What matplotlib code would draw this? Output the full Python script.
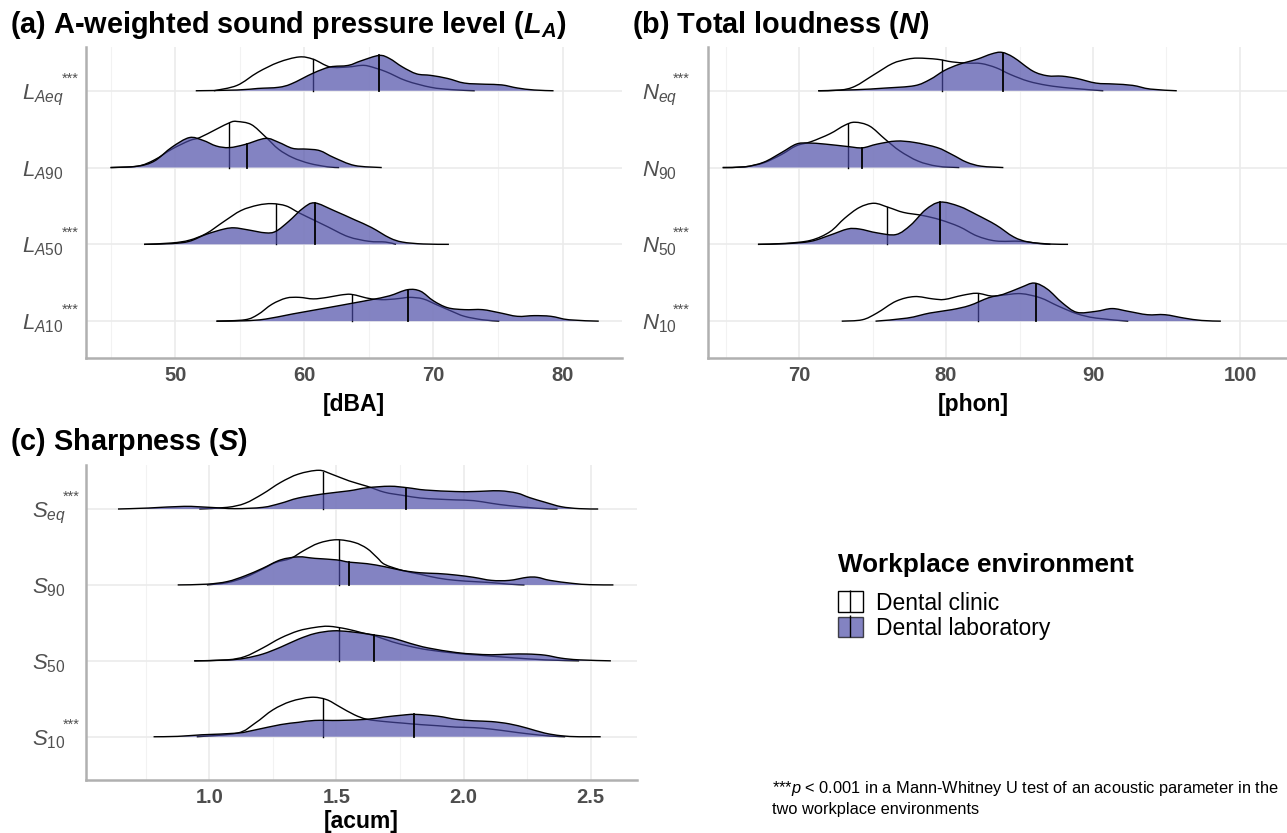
import numpy as np
import matplotlib.pyplot as plt
from matplotlib.path import Path
from matplotlib.patches import PathPatch, Patch
from matplotlib.lines import Line2D
from matplotlib.legend_handler import HandlerTuple

plt.rcParams["font.family"] = ["Liberation Sans", "DejaVu Sans"]
plt.rcParams["mathtext.fontset"] = "custom"
plt.rcParams["mathtext.rm"] = "Liberation Sans"
plt.rcParams["mathtext.it"] = "Liberation Sans:italic"
plt.rcParams["mathtext.bf"] = "Liberation Sans:bold"
plt.rcParams["mathtext.bfit"] = "Liberation Sans:bold:italic"

# ---- data: (value, scaled density) ----
# (a) A-weighted SPL [dBA]
la_eq_cli = [(53.0, 0), (54.8, 0.07), (56.4, 0.24), (58.0, 0.37), (59.6, 0.44), (60.7, 0.41), (62.0, 0.31),
             (63.4, 0.31), (64.4, 0.33), (65.0, 0.32), (66.3, 0.25), (67.9, 0.13), (69.8, 0.045), (71.4, 0.015), (73.2, 0)]
la_eq_lab = [(51.6, 0), (54.8, 0.01), (56.4, 0.03), (58.0, 0.045), (59.0, 0.09), (60.7, 0.23), (62.0, 0.31),
             (63.4, 0.33), (64.4, 0.39), (65.8, 0.46), (66.6, 0.42), (67.6, 0.31), (68.7, 0.22), (69.8, 0.20),
             (71.1, 0.16), (72.4, 0.10), (74.0, 0.085), (75.3, 0.076), (76.5, 0.036), (77.8, 0.01), (79.3, 0)]
la_90_cli = [(45.0, 0), (47.1, 0.018), (48.4, 0.10), (49.75, 0.24), (51.1, 0.35), (51.9, 0.39), (53.2, 0.50),
             (54.3, 0.59), (54.8, 0.60), (55.9, 0.56), (57.0, 0.40), (58.0, 0.24), (59.1, 0.13), (60.4, 0.054),
             (61.8, 0.01), (62.7, 0)]
la_90_lab = [(45.0, 0), (47.1, 0.018), (48.4, 0.085), (49.75, 0.265), (51.1, 0.39), (52.15, 0.355), (53.2, 0.28),
             (54.2, 0.26), (55.4, 0.30), (57.0, 0.38), (58.0, 0.33), (59.1, 0.25), (60.2, 0.24), (61.2, 0.22),
             (62.3, 0.13), (63.9, 0.027), (66.0, 0)]
la_50_cli = [(47.6, 0), (49.75, 0.018), (51.1, 0.054), (52.4, 0.14), (53.8, 0.30), (55.1, 0.44), (56.4, 0.51),
             (57.5, 0.53), (58.6, 0.50), (59.6, 0.41), (60.7, 0.32), (61.8, 0.23), (63.4, 0.10), (65.0, 0.04),
             (66.3, 0.03), (67.1, 0)]
la_50_lab = [(47.6, 0), (49.75, 0.01), (51.1, 0.04), (52.4, 0.13), (53.8, 0.20), (54.6, 0.215), (55.6, 0.19),
             (57.0, 0.15), (57.8, 0.17), (58.8, 0.30), (59.9, 0.47), (60.8, 0.54), (62.3, 0.44), (63.9, 0.32),
             (65.2, 0.22), (66.6, 0.085), (67.6, 0.03), (69.2, 0.005), (71.2, 0)]
la_10_cli = [(53.2, 0), (55.4, 0.018), (56.4, 0.085), (57.5, 0.22), (58.6, 0.30), (59.6, 0.31), (60.7, 0.29),
             (61.8, 0.31), (62.8, 0.34), (63.6, 0.35), (64.4, 0.32), (65.2, 0.29), (66.3, 0.28), (67.6, 0.30),
             (68.2, 0.31), (69.2, 0.29), (70.3, 0.21), (71.4, 0.13), (72.4, 0.063), (73.8, 0.018), (75.1, 0)]
la_10_lab = [(53.2, 0), (55.4, 0.005), (57.0, 0.027), (59.1, 0.094), (61.8, 0.175), (63.6, 0.23), (65.2, 0.28),
             (66.6, 0.33), (68.0, 0.41), (69.0, 0.39), (70.0, 0.265), (71.1, 0.175), (72.4, 0.15), (73.8, 0.15),
             (75.1, 0.11), (76.5, 0.063), (77.8, 0.072), (79.1, 0.063), (80.5, 0.018), (82.8, 0)]
la_med_cli = [60.7, 54.2, 57.8, 63.7]
la_med_lab = [65.8, 55.6, 60.8, 68.05]

# (b) Total loudness [phon]
n_eq_cli = [(71.3, 0), (72.8, 0.009), (73.8, 0.058), (75.1, 0.21), (76.35, 0.354), (77.35, 0.41), (78.1, 0.425),
            (79.4, 0.41), (80.4, 0.376), (81.4, 0.36), (82.4, 0.354), (83.4, 0.30), (84.4, 0.21), (85.6, 0.124),
            (86.9, 0.07), (88.4, 0.035), (90.7, 0)]
n_eq_lab = [(71.3, 0), (73.8, 0.013), (75.85, 0.035), (77.85, 0.066), (78.9, 0.146), (79.9, 0.265), (80.9, 0.345),
            (82.1, 0.41), (83.1, 0.48), (83.8, 0.50), (84.6, 0.434), (85.9, 0.257), (86.9, 0.195), (87.9, 0.19),
            (88.9, 0.16), (90.2, 0.10), (91.4, 0.088), (92.7, 0.07), (93.9, 0.022), (95.7, 0)]
n_90_cli = [(64.8, 0), (66.3, 0.009), (67.6, 0.062), (68.8, 0.17), (69.8, 0.283), (70.8, 0.336), (72.1, 0.44),
            (73.1, 0.55), (73.8, 0.59), (74.8, 0.54), (75.85, 0.37), (76.85, 0.217), (78.1, 0.084), (79.4, 0.018),
            (80.9, 0)]
n_90_lab = [(64.8, 0), (66.3, 0.009), (67.6, 0.07), (68.8, 0.195), (69.8, 0.305), (70.6, 0.32), (71.8, 0.305),
            (73.3, 0.274), (74.3, 0.257), (75.3, 0.305), (76.6, 0.345), (77.85, 0.327), (79.4, 0.26), (80.4, 0.17),
            (81.4, 0.07), (82.4, 0.018), (83.9, 0)]
n_50_cli = [(67.2, 0), (69.1, 0.013), (70.8, 0.053), (72.1, 0.164), (73.1, 0.34), (74.1, 0.48), (75.1, 0.535),
            (76.1, 0.48), (77.1, 0.416), (78.4, 0.376), (79.6, 0.32), (80.9, 0.23), (82.1, 0.11), (83.4, 0.044),
            (85.1, 0.04), (86.4, 0.009), (87.1, 0)]
n_50_lab = [(67.2, 0), (69.1, 0.009), (70.8, 0.04), (72.1, 0.12), (73.3, 0.2), (74.1, 0.2), (75.3, 0.15),
            (76.6, 0.128), (77.6, 0.252), (78.6, 0.45), (79.6, 0.55), (80.9, 0.495), (82.1, 0.385), (83.4, 0.252),
            (84.6, 0.097), (85.6, 0.031), (87.1, 0.004), (88.3, 0)]
n_10_cli = [(72.9, 0), (74.3, 0.018), (75.3, 0.106), (76.6, 0.26), (77.85, 0.32), (79.1, 0.29), (79.9, 0.283),
            (81.1, 0.336), (82.1, 0.363), (83.1, 0.327), (83.9, 0.34), (85.1, 0.358), (86.4, 0.305), (87.65, 0.195),
            (88.9, 0.097), (90.2, 0.04), (92.4, 0)]
n_10_lab = [(75.2, 0), (77.35, 0.04), (78.9, 0.106), (80.4, 0.15), (81.6, 0.204), (82.9, 0.305), (83.9, 0.35),
            (85.1, 0.44), (86.0, 0.496), (86.9, 0.416), (87.9, 0.24), (88.9, 0.115), (90.2, 0.128), (91.3, 0.164),
            (92.4, 0.128), (93.7, 0.084), (94.9, 0.084), (96.2, 0.04), (97.4, 0.009), (98.7, 0)]
n_med_cli = [79.7, 73.3, 76.0, 82.2]
n_med_lab = [83.9, 74.3, 79.6, 86.1]

# (c) Sharpness [acum]
s_eq_cli = [(0.96, 0), (1.07, 0.022), (1.14, 0.075), (1.21, 0.20), (1.28, 0.35), (1.35, 0.46), (1.43, 0.51),
            (1.48, 0.46), (1.55, 0.37), (1.62, 0.30), (1.69, 0.22), (1.76, 0.18), (1.83, 0.145), (1.90, 0.13),
            (1.97, 0.12), (2.04, 0.11), (2.11, 0.075), (2.18, 0.044), (2.29, 0.01), (2.37, 0)]
s_eq_lab = [(0.64, 0), (0.76, 0.013), (0.90, 0.035), (1.0, 0.022), (1.10, 0.005), (1.21, 0.022), (1.28, 0.075),
            (1.35, 0.145), (1.45, 0.20), (1.55, 0.24), (1.62, 0.28), (1.71, 0.30), (1.78, 0.28), (1.85, 0.25),
            (1.97, 0.23), (2.04, 0.23), (2.14, 0.24), (2.21, 0.21), (2.26, 0.15), (2.32, 0.09), (2.385, 0.03),
            (2.455, 0.005), (2.53, 0)]
s_90_cli = [(0.99, 0), (1.07, 0.03), (1.14, 0.10), (1.21, 0.21), (1.26, 0.295), (1.32, 0.35), (1.37, 0.45),
            (1.43, 0.55), (1.50, 0.595), (1.57, 0.56), (1.62, 0.48), (1.66, 0.36), (1.69, 0.27), (1.76, 0.19),
            (1.83, 0.14), (1.90, 0.09), (1.97, 0.06), (2.04, 0.044), (2.11, 0.03), (2.18, 0.01), (2.24, 0)]
s_90_lab = [(0.875, 0), (0.99, 0.01), (1.07, 0.044), (1.14, 0.12), (1.21, 0.22), (1.28, 0.33), (1.35, 0.37),
            (1.415, 0.35), (1.50, 0.33), (1.55, 0.30), (1.62, 0.28), (1.69, 0.24), (1.76, 0.19), (1.83, 0.16),
            (1.90, 0.15), (1.97, 0.13), (2.04, 0.10), (2.11, 0.06), (2.18, 0.06), (2.25, 0.10), (2.29, 0.10),
            (2.34, 0.06), (2.43, 0.02), (2.50, 0.003), (2.59, 0)]
s_50_cli = [(0.94, 0), (1.07, 0.013), (1.14, 0.057), (1.21, 0.17), (1.28, 0.30), (1.35, 0.395), (1.415, 0.44),
            (1.47, 0.455), (1.54, 0.42), (1.60, 0.37), (1.65, 0.33), (1.72, 0.25), (1.79, 0.19), (1.86, 0.145),
            (1.97, 0.10), (2.04, 0.08), (2.18, 0.044), (2.32, 0.013), (2.455, 0)]
s_50_lab = [(0.94, 0), (1.07, 0.01), (1.14, 0.035), (1.21, 0.09), (1.28, 0.18), (1.35, 0.285), (1.415, 0.36),
            (1.485, 0.395), (1.55, 0.385), (1.62, 0.355), (1.65, 0.34), (1.72, 0.30), (1.79, 0.23), (1.86, 0.17),
            (1.97, 0.11), (2.04, 0.09), (2.11, 0.08), (2.18, 0.088), (2.25, 0.09), (2.32, 0.075), (2.385, 0.035),
            (2.455, 0.013), (2.58, 0)]
s_10_cli = [(0.95, 0), (1.11, 0.048), (1.18, 0.18), (1.25, 0.355), (1.32, 0.465), (1.40, 0.52), (1.46, 0.49),
            (1.51, 0.40), (1.57, 0.29), (1.62, 0.23), (1.69, 0.20), (1.76, 0.18), (1.83, 0.16), (1.90, 0.145),
            (1.97, 0.127), (2.04, 0.12), (2.11, 0.10), (2.18, 0.07), (2.25, 0.04), (2.34, 0.01), (2.40, 0)]
s_10_lab = [(0.78, 0), (0.875, 0.005), (0.97, 0.026), (1.11, 0.048), (1.18, 0.09), (1.28, 0.16), (1.35, 0.19),
            (1.415, 0.215), (1.51, 0.215), (1.62, 0.23), (1.69, 0.26), (1.76, 0.285), (1.81, 0.295), (1.90, 0.27),
            (1.97, 0.23), (2.04, 0.21), (2.11, 0.20), (2.18, 0.17), (2.25, 0.114), (2.32, 0.048), (2.385, 0.013),
            (2.455, 0), (2.54, 0)]
s_med_cli = [1.447, 1.508, 1.508, 1.447]
s_med_lab = [1.773, 1.55, 1.648, 1.807]

la_rows = [r"$L_{Aeq}$", r"$L_{A90}$", r"$L_{A50}$", r"$L_{A10}$"]
n_rows = [r"$N_{eq}$", r"$N_{90}$", r"$N_{50}$", r"$N_{10}$"]
s_rows = [r"$S_{eq}$", r"$S_{90}$", r"$S_{50}$", r"$S_{10}$"]
# rows with *** (p < 0.001)
la_sig = [True, False, True, True]
n_sig = [True, False, True, True]
s_sig = [True, False, False, True]

LAB_COLOR = "#4949A5"
GRID = "#EBEBEB"
LABEL_GREY = "#505050"


def smooth_path(xs, ys, base):
    # cubic bezier through the read points (catmull-rom tangents)
    n = len(xs)
    verts = [(xs[0], ys[0])]
    codes = [Path.MOVETO]
    for i in range(n - 1):
        x0, y0 = (xs[i - 1], ys[i - 1]) if i > 0 else (xs[i], ys[i])
        x1, y1 = xs[i], ys[i]
        x2, y2 = xs[i + 1], ys[i + 1]
        x3, y3 = (xs[i + 2], ys[i + 2]) if i + 2 < n else (x2, y2)
        c1 = (x1 + (x2 - x0) / 6, max(base, y1 + (y2 - y0) / 6))
        c2 = (x2 - (x3 - x1) / 6, max(base, y2 - (y3 - y1) / 6))
        verts += [c1, c2, (x2, y2)]
        codes += [Path.CURVE4] * 3
    return verts, codes


def ridge(ax, pts, base, med, face, alpha, z, mlw):
    xs = [p[0] for p in pts]
    ys = [base + p[1] for p in pts]
    verts, codes = smooth_path(xs, ys, base)
    fv = verts + [(xs[-1], base), (xs[0], base), (xs[0], base)]
    fc = codes + [Path.LINETO, Path.LINETO, Path.CLOSEPOLY]
    ax.add_patch(PathPatch(Path(fv, fc), facecolor=face, edgecolor="none", alpha=alpha, zorder=z))
    ax.add_patch(PathPatch(Path(verts, codes), facecolor="none", edgecolor="black", lw=1.0, zorder=z + 0.1))
    top = np.interp(med, xs, ys)
    ax.plot([med, med], [base, top], color="black", lw=mlw, zorder=z + 0.2)


def panel(ax, cli, lab, med_cli, med_lab, rows, sig, xlim, ylim, majors, minors, fmt,
          xlabel, lab_x, lab_y, ypad_px, star_px):
    bases = [4, 3, 2, 1]
    for k in range(4):
        ridge(ax, cli[k], bases[k], med_cli[k], "white", 0.8, 2 + k, 1.0)
        ridge(ax, lab[k], bases[k], med_lab[k], LAB_COLOR, 0.68, 2.5 + k, 1.3)
        if sig[k]:
            ax.annotate("***", xy=(0, bases[k]), xycoords=ax.get_yaxis_transform(),
                        xytext=(-star_px * 0.72, 8.5), textcoords="offset points",
                        fontsize=10.5, color=LABEL_GREY, ha="left", va="center")
    ax.set_xlim(*xlim)
    ax.set_ylim(*ylim)
    ax.set_xticks(majors)
    ax.set_xticklabels([fmt.format(v) for v in majors], fontsize=14.5, fontweight="bold", color="#4D4D4D")
    ax.set_xticks(minors, minor=True)
    ax.set_yticks(bases)
    ax.set_yticklabels(rows, fontsize=16, color=LABEL_GREY)
    for t in ax.get_yticklabels():
        t.set_horizontalalignment("left")
    ax.tick_params(axis="both", which="both", length=0)
    ax.tick_params(axis="x", pad=6)
    ax.tick_params(axis="y", pad=ypad_px * 0.72)
    ax.grid(which="major", color=GRID, lw=1.2)
    ax.grid(which="minor", axis="x", color="#F2F2F2", lw=0.8)
    ax.set_axisbelow(True)
    for s in ["top", "right"]:
        ax.spines[s].set_visible(False)
    for s in ["left", "bottom"]:
        ax.spines[s].set_color("#B0B0B0")
        ax.spines[s].set_linewidth(1.8)
    ax.set_xlabel(xlabel, fontsize=16.5, fontweight="bold", va="center")
    ax.xaxis.set_label_coords(lab_x, lab_y)


fig = plt.figure(figsize=(12.87, 8.33), dpi=100)

ax_a = fig.add_axes([0.0668, 0.5702, 0.4165, 0.3734])
panel(ax_a, [la_eq_cli, la_90_cli, la_50_cli, la_10_cli], [la_eq_lab, la_90_lab, la_50_lab, la_10_lab],
      la_med_cli, la_med_lab, la_rows, la_sig, (43.1, 84.6), (0.52, 4.57),
      [50, 60, 70, 80], [45, 55, 65, 75], "{:.0f}", "[dBA]", 0.5, -0.148, 64, 24)

ax_b = fig.add_axes([0.5501, 0.5702, 0.4499, 0.3734])
panel(ax_b, [n_eq_cli, n_90_cli, n_50_cli, n_10_cli], [n_eq_lab, n_90_lab, n_50_lab, n_10_lab],
      n_med_cli, n_med_lab, n_rows, n_sig, (63.8, 103.2), (0.52, 4.57),
      [70, 80, 90, 100], [65, 75, 85, 95], "{:.0f}", "[phon]", 0.459, -0.148, 66, 35)

ax_c = fig.add_axes([0.0668, 0.0636, 0.4282, 0.3782])
panel(ax_c, [s_eq_cli, s_90_cli, s_50_cli, s_10_cli], [s_eq_lab, s_90_lab, s_50_lab, s_10_lab],
      s_med_cli, s_med_lab, s_rows, s_sig, (0.514, 2.683), (0.43, 4.58),
      [1.0, 1.5, 2.0, 2.5], [0.75, 1.25, 1.75, 2.25], "{:.1f}", "[acum]", 0.5, -0.131, 54, 23)

fig.text(10 / 1287, 1 - 25 / 833, r"(a) A-weighted sound pressure level ($\mathbfit{L}_{\mathbfit{A}}$)",
         fontsize=20.8, fontweight="bold", va="center")
fig.text(632 / 1287, 1 - 25 / 833, r"(b) Total loudness ($\mathbfit{N}$)", fontsize=20.8, fontweight="bold",
         va="center")
fig.text(10 / 1287, 1 - 442 / 833, r"(c) Sharpness ($\mathbfit{S}$)", fontsize=20.8, fontweight="bold",
         va="center")

# legend: title as separate text, entries below
fig.text(838 / 1287, 1 - 565 / 833, "Workplace environment", fontsize=18.8, fontweight="bold", va="center")
h_cli = (Patch(facecolor="white", edgecolor="black", lw=1.0),
         Line2D([], [], color="black", marker="|", markersize=16, linestyle="None"))
h_lab = (Patch(facecolor=LAB_COLOR, alpha=0.68, edgecolor="black", lw=1.0),
         Line2D([], [], color="black", marker="|", markersize=16, linestyle="None"))
leg = fig.legend([h_cli, h_lab], ["Dental clinic", "Dental laboratory"],
                 handler_map={tuple: HandlerTuple(ndivide=1)},
                 loc="upper left", bbox_to_anchor=(827 / 1287, 1 - 580 / 833),
                 frameon=False, fontsize=16.5,
                 handlelength=1.05, handleheight=1.0, handletextpad=0.6, labelspacing=0.1, borderpad=0)

fig.text(772 / 1287, 1 - 798 / 833,
         r"***$\mathit{p}$ < 0.001 in a Mann-Whitney U test of an acoustic parameter in the" + "\ntwo workplace environments",
         fontsize=11.8, va="center", linespacing=1.3)

fig.savefig("out.png", dpi=100)
